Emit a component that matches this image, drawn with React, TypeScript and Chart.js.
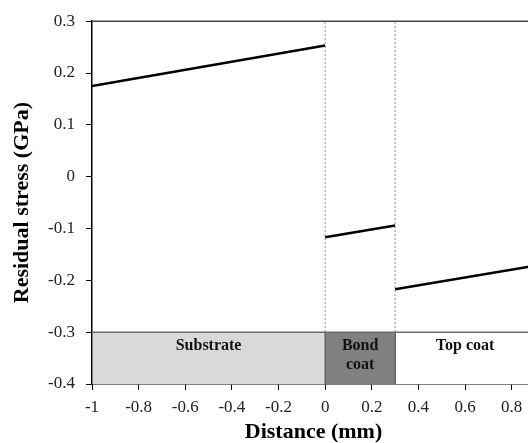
import { useEffect, useRef } from "react";
import { Chart, registerables } from "chart.js";
Chart.register(...registerables);

// Stress profile segments (x in mm, stress in GPa)
const substrateX = [-1, 0];
const substrateY = [0.175, 0.253];
const bondX = [0, 0.3];
const bondY = [-0.117, -0.094];
const topX = [0.3, 0.9];
const topY = [-0.217, -0.172];

// Layer bands
const layerNames = [["Substrate"], ["Bond", "coat"], ["Top coat"]];
const layerStart = [-1, 0, 0.3];
const layerEnd = [0, 0.3, 0.9];
const layerFill = ["#d9d9d9", "#808080", "#ffffff"];
const layerTop = -0.3;
const layerBottom = -0.4;
const interfaces = [0, 0.3];

// Axes
const xMin = -1;
const xMax = 0.9;
const xStep = 0.2;
const yMin = -0.4;
const yMax = 0.3;
const yStep = 0.1;

const FONT = "'Liberation Serif', 'Times New Roman', serif";

const seg = (xs: number[], ys: number[]) => xs.map((x, i) => ({ x, y: ys[i] }));
const fmt = (v: any) => String(Math.round(Number(v) * 10) / 10);

export default function App() {
  const ref = useRef<HTMLCanvasElement | null>(null);
  useEffect(() => {
    if (!ref.current) return;
    const lineStyle = {
      borderColor: "#000",
      borderWidth: 2.5,
      pointRadius: 0,
      showLine: true,
      fill: false,
    };
    const datasets: any[] = [
      { ...lineStyle, data: seg(substrateX, substrateY) },
      { ...lineStyle, data: seg(bondX, bondY) },
      { ...lineStyle, data: seg(topX, topY) },
      ...interfaces.map((x) => ({
        data: [
          { x, y: layerTop },
          { x, y: yMax },
        ],
        showLine: true,
        pointRadius: 0,
        borderColor: "#888",
        borderWidth: 1,
        borderDash: [2, 2],
        fill: false,
      })),
      ...layerStart.map((x0, i) => ({
        data: [
          { x: x0, y: layerBottom },
          { x: x0, y: layerTop },
          { x: layerEnd[i], y: layerTop },
          { x: layerEnd[i], y: layerBottom },
        ],
        showLine: true,
        pointRadius: 0,
        borderColor: "#6b6b6b",
        borderWidth: 1.5,
        backgroundColor: layerFill[i],
        fill: { value: layerBottom },
      })),
    ];

    const extras = {
      id: "extras",
      afterDatasetsDraw(chart: any) {
        const { ctx, chartArea, scales } = chart;
        ctx.save();
        // top frame
        ctx.strokeStyle = "#444";
        ctx.lineWidth = 1.5;
        ctx.beginPath();
        ctx.moveTo(chartArea.left, chartArea.top);
        ctx.lineTo(chartArea.right, chartArea.top);
        ctx.stroke();
        // layer labels
        ctx.fillStyle = "#111";
        ctx.font = `bold 16px ${FONT}`;
        ctx.textAlign = "center";
        ctx.textBaseline = "middle";
        const topPx = scales.y.getPixelForValue(layerTop);
        layerNames.forEach((lines, i) => {
          const cx = (scales.x.getPixelForValue(layerStart[i]) + scales.x.getPixelForValue(layerEnd[i])) / 2;
          lines.forEach((t, j) => ctx.fillText(t, cx, topPx + 14 + j * 19));
        });
        ctx.restore();
      },
    };

    const chart = new Chart(ref.current, {
      type: "scatter",
      data: { datasets },
      plugins: [extras],
      options: {
        animation: false,
        responsive: false,
        events: [],
        layout: { padding: { top: 19, right: 10, left: 0, bottom: 0 } },
        plugins: { legend: { display: false }, tooltip: { enabled: false } },
        scales: {
          x: {
            type: "linear",
            min: xMin,
            max: xMax,
            afterFit: (s: any) => {
              s.height = 59;
            },
            ticks: {
              stepSize: xStep,
              includeBounds: false,
              color: "#222",
              font: { family: FONT, size: 17 },
              padding: 7,
              maxRotation: 0,
              callback: fmt,
            },
            grid: { drawOnChartArea: false, drawTicks: true, tickLength: 6, color: "#000" },
            border: { display: true, color: "#000", width: 1.5 },
            title: {
              display: true,
              text: "Distance (mm)",
              color: "#000",
              font: { family: FONT, size: 22, weight: "bold", lineHeight: 1 },
              padding: { top: 0, bottom: 0 },
            },
          },
          y: {
            type: "linear",
            min: yMin,
            max: yMax,
            afterFit: (s: any) => {
              s.width = 92;
            },
            ticks: {
              stepSize: yStep,
              color: "#222",
              font: { family: FONT, size: 17 },
              padding: 11,
              callback: fmt,
            },
            grid: { drawOnChartArea: false, drawTicks: true, tickLength: 6, color: "#000" },
            border: { display: true, color: "#000", width: 1.5 },
            title: {
              display: true,
              text: "Residual stress (GPa)",
              color: "#000",
              font: { family: FONT, size: 22, weight: "bold", lineHeight: 1 },
              padding: { top: 11, bottom: 0 },
            },
          },
        },
      },
    } as any);
    return () => chart.destroy();
  }, []);

  return (
    <div
      style={{
        position: "fixed",
        left: 0,
        top: 0,
        width: 528,
        height: 443,
        overflow: "hidden",
        background: "#fff",
      }}
    >
      <canvas ref={ref} width={545} height={443} style={{ display: "block" }} />
    </div>
  );
}
